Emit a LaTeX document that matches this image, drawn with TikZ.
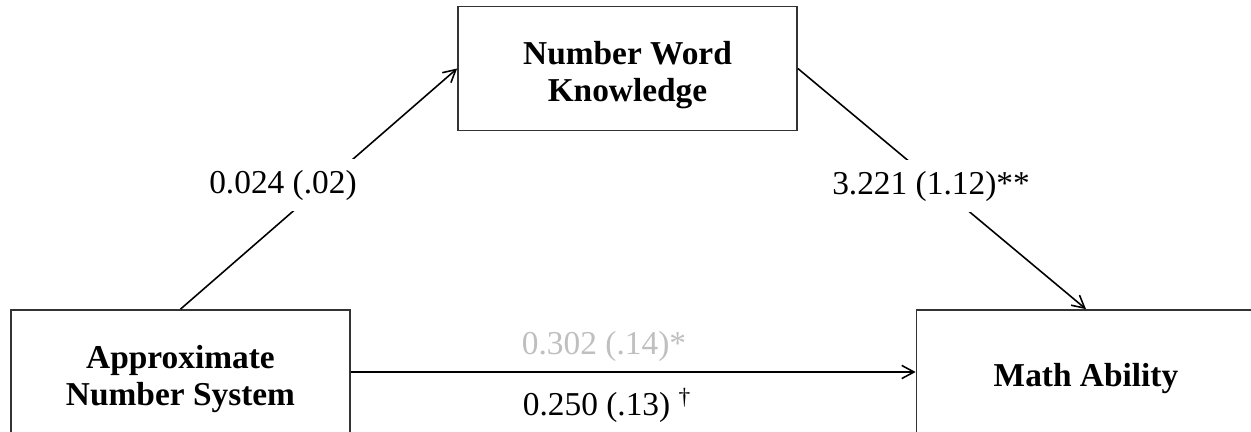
\documentclass[tikz,border=0pt]{standalone}
\usepackage{fontspec}
\setmainfont{Liberation Serif}
\usetikzlibrary{arrows.meta, positioning}

% extra room above the first line, so the text sits a little low in its box
\newcommand{\topgap}{\rule{0pt}{21pt}}

\begin{document}
\begin{tikzpicture}[x=0.02cm, y=-0.02cm,
    var/.style={rectangle, draw=black!80, line width=1pt, fill=white,
                minimum width=6.78cm, minimum height=2.48cm, align=center,
                font=\fontsize{19}{21}\selectfont\bfseries},
    arrow/.style={line width=0.9pt, -{Straight Barb[length=7pt, width=7.5pt]}},
    coef/.style={fill=white, inner sep=6pt, font=\fontsize{19}{21}\selectfont}]

    \path[use as bounding box, clip] (0,0) rectangle (1251,432);

    \node[var] (words) at (627.5,68.5) {\topgap Number Word\\Knowledge};
    \node[var] (ans) at (180.5,372) {\topgap Approximate\\Number System};
    \node[var] (math) at (1086,372) {\topgap Math Ability};

    \draw[arrow] (ans.north) -- (words.west);
    \draw[arrow] (words.east) -- (math.north);
    \draw[arrow] (ans) -- (math);

    % path coefficients
    \node[coef] (apath) at (283,185) {0.024 (.02)};
    \node[coef] (bpath) at (931,186) {3.221 (1.12)**};
    \node[coef, fill=none, text=black!25] (total) at (604,346) {0.302 (.14)*};
    \node[coef] (direct) at (607,405) {0.250 (.13) \textsuperscript{†}};
\end{tikzpicture}
\end{document}
